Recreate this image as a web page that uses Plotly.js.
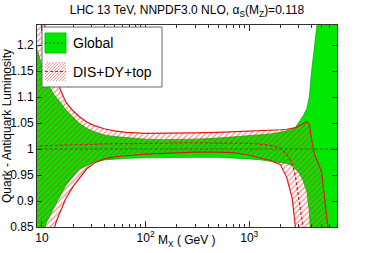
<!DOCTYPE html>
<html><head><meta charset="utf-8">
<script src="https://cdn.plot.ly/plotly-3.0.1.min.js"></script>
<style>html,body{margin:0;padding:0;background:#fff}#chart{width:374px;height:253px}</style>
</head><body><div id="chart"></div>
<script>
// ---- data ----
const massGeV = [8.5, 9, 10, 11, 12, 13, 14, 15, 17, 20, 23, 27, 32, 40, 50, 65, 100, 150, 200, 300, 500, 700, 1000, 1300, 1600, 2000, 2300, 2600, 2800, 3000, 3300, 3600, 3800, 4000, 4300, 4600, 5000, 5300, 5600, 6000, 7000, 8000];
const globalUpper = [1.21, 1.19, 1.16, 1.135, 1.117, 1.105, 1.097, 1.09, 1.075, 1.06, 1.049, 1.04, 1.033, 1.027, 1.024, 1.022, 1.019, 1.018, 1.018, 1.019, 1.021, 1.023, 1.025, 1.027, 1.029, 1.032, 1.035, 1.038, 1.042, 1.05, 1.063, 1.078, 1.10, 1.15, 1.2, 1.25, 1.32, 1.4, 1.4, 1.4, 1.4, 1.4];
const globalLower = [0.77, 0.79, 0.83, 0.858, 0.872, 0.886, 0.898, 0.91, 0.93, 0.947, 0.961, 0.968, 0.975, 0.979, 0.981, 0.982, 0.983, 0.984, 0.984, 0.984, 0.984, 0.983, 0.981, 0.979, 0.977, 0.974, 0.972, 0.968, 0.962, 0.955, 0.94, 0.918, 0.88, 0.80, 0.70, 0.65, 0.6, 0.6, 0.6, 0.6, 0.6, 0.6];
const globalCentral = [1, 1, 1, 1, 1, 1, 1, 1, 1, 1, 1, 1, 1, 1, 1, 1, 1, 1, 1, 1, 1, 1, 1, 1, 1, 1, 1, 1, 1, 1, 1, 1, 1, 1, 1, 1, 1, 1, 1, 1, 1, 1];
const disUpper = [1.38, 1.33, 1.27, 1.22, 1.185, 1.16, 1.135, 1.115, 1.09, 1.073, 1.062, 1.052, 1.045, 1.039, 1.035, 1.032, 1.030, 1.030, 1.030, 1.031, 1.032, 1.033, 1.034, 1.035, 1.036, 1.037, 1.038, 1.039, 1.041, 1.044, 1.049, 1.053, 1.047, 1.018, 0.988, 0.975, 0.955, 0.90, 0.845, 0.78, 0.70, 0.65];
const disLower = [0.66, 0.68, 0.73, 0.77, 0.81, 0.845, 0.865, 0.88, 0.905, 0.928, 0.945, 0.962, 0.973, 0.981, 0.985, 0.987, 0.990, 0.992, 0.993, 0.994, 0.994, 0.993, 0.988, 0.983, 0.978, 0.970, 0.945, 0.905, 0.845, 0.79, 0.72, 0.65, 0.6, 0.6, 0.6, 0.6, 0.6, 0.6, 0.6, 0.6, 0.6, 0.6];
const disCentral = [1.006, 1.006, 1.006, 1.007, 1.007, 1.007, 1.007, 1.007, 1.008, 1.008, 1.008, 1.009, 1.009, 1.010, 1.010, 1.011, 1.011, 1.011, 1.012, 1.012, 1.012, 1.012, 1.011, 1.009, 1.007, 1.002, 0.99, 0.972, 0.945, 0.905, 0.855, 0.80, 0.76, 0.72, 0.7, 0.7, 0.7, 0.7, 0.7, 0.7, 0.7, 0.7];
const seriesNames = ['Global', 'DIS+DY+top'];
const yTickVals = [0.85, 0.9, 0.95, 1, 1.05, 1.1, 1.15, 1.2];
const yTickText = ['0.85', '0.9', '0.95', '1', '1.05', '1.1', '1.15', '1.2'];
const xTickVals = [10, 100, 1000];
const xTickText = ['10', '10<sup>2</sup>', '10<sup>3</sup>'];
const xMinorVals = [20, 30, 40, 50, 60, 70, 80, 90, 200, 300, 400, 500, 600, 700, 800, 900, 2000, 3000, 4000, 5000, 6000, 7000];

// ---- layout geometry ----
const L = 37, R = 337, T = 25, B = 227;
function px2x(px) { return (px - L) / (R - L); }
function px2y(py) { return (B - py) / (B - T); }
function band(x, up, lo) {
  return { x: x.concat(x.slice().reverse()), y: up.concat(lo.slice().reverse()) };
}
const FONT = 'Liberation Sans, Arial, sans-serif';
const GREEN = 'rgb(0,232,0)';
const RED = 'rgb(222,24,24)';

const gBand = band(massGeV, globalUpper, globalLower);
const dBand = band(massGeV, disUpper, disLower);

const traces = [
  { type: 'scatter', mode: 'lines', x: gBand.x, y: gBand.y, fill: 'toself', fillcolor: GREEN,
    line: { color: 'rgb(0,170,0)', width: 0.7 }, name: seriesNames[0], hoverinfo: 'skip', showlegend: false },
  { type: 'scatter', mode: 'lines', x: dBand.x, y: dBand.y, fill: 'toself', fillcolor: 'rgba(0,0,0,0)',
    fillpattern: { shape: '/', fgcolor: 'rgb(235,40,40)', fgopacity: 0.55, bgcolor: 'rgba(0,0,0,0)', size: 4, solidity: 0.3 },
    line: { color: RED, width: 1.2 }, name: seriesNames[1], hoverinfo: 'skip', showlegend: false },
  { type: 'scatter', mode: 'lines', x: massGeV, y: globalCentral, line: { color: 'rgb(40,110,40)', width: 1, dash: '3px,2px' },
    hoverinfo: 'skip', showlegend: false },
  { type: 'scatter', mode: 'lines', x: massGeV, y: disCentral, line: { color: RED, width: 1.2, dash: '3px,2px' },
    hoverinfo: 'skip', showlegend: false }
];

// ---- custom ROOT-style legend ----
const shapes = [];
const annotations = [];
shapes.push({ type: 'rect', xref: 'paper', yref: 'paper', x0: px2x(42), x1: px2x(162), y0: px2y(27), y1: px2y(87),
  fillcolor: 'white', line: { color: '#666', width: 1 }, layer: 'above' });
shapes.push({ type: 'rect', xref: 'paper', yref: 'paper', x0: px2x(45), x1: px2x(66), y0: px2y(33), y1: px2y(53),
  fillcolor: GREEN, line: { color: 'rgb(0,200,0)', width: 1 }, layer: 'above' });
shapes.push({ type: 'line', xref: 'paper', yref: 'paper', x0: px2x(45), x1: px2x(66), y0: px2y(43), y1: px2y(43),
  line: { color: 'rgb(40,110,40)', width: 1, dash: '2px,2px' }, layer: 'above' });
// hatched swatch
(function () {
  const x0 = 45, x1 = 66, y0 = 62, y1 = 81, w = x1 - x0, h = y1 - y0;
  for (let c = -h; c < w; c += 3) {
    const tmin = Math.max(0, -c), tmax = Math.min(h, w - c);
    if (tmax <= tmin) continue;
    shapes.push({ type: 'line', xref: 'paper', yref: 'paper',
      x0: px2x(x0 + c + tmin), y0: px2y(y1 - tmin), x1: px2x(x0 + c + tmax), y1: px2y(y1 - tmax),
      line: { color: 'rgba(240,90,90,0.6)', width: 1 }, layer: 'above' });
  }
})();
shapes.push({ type: 'line', xref: 'paper', yref: 'paper', x0: px2x(45), x1: px2x(66), y0: px2y(71.5), y1: px2y(71.5),
  line: { color: RED, width: 1.2, dash: '3px,2px' }, layer: 'above' });
annotations.push({ xref: 'paper', yref: 'paper', x: px2x(71), y: px2y(43), xanchor: 'left', yanchor: 'middle',
  text: seriesNames[0], showarrow: false, font: { family: FONT, size: 14, color: '#000' } });
annotations.push({ xref: 'paper', yref: 'paper', x: px2x(71), y: px2y(72), xanchor: 'left', yanchor: 'middle',
  text: seriesNames[1], showarrow: false, font: { family: FONT, size: 14, color: '#000' } });
// x axis title placed inline with tick labels
annotations.push({ xref: 'paper', yref: 'paper', x: px2x(187), y: px2y(241), xanchor: 'center', yanchor: 'middle',
  text: 'M<sub>X</sub> ( GeV )', showarrow: false, font: { family: FONT, size: 12, color: '#000' } });

const layout = {
  width: 374, height: 253,
  margin: { l: L, r: 374 - R, t: T, b: 253 - B, pad: 0 },
  paper_bgcolor: 'white', plot_bgcolor: 'white',
  showlegend: false,
  font: { family: FONT, size: 12, color: '#000' },
  title: { text: 'LHC 13 TeV, NNPDF3.0 NLO, α<sub>S</sub>(M<sub>Z</sub>)=0.118', x: 0.5, xanchor: 'center',
    y: 1 - 10 / 253, yanchor: 'middle', font: { family: FONT, size: 12, color: '#000' } },
  xaxis: {
    type: 'log', range: [Math.log10(8.95), Math.log10(7030)],
    tickmode: 'array', tickvals: xTickVals, ticktext: xTickText,
    ticks: 'inside', ticklen: 6, tickwidth: 1, tickcolor: '#333',
    minor: { tickmode: 'array', tickvals: xMinorVals, ticks: 'inside', ticklen: 3, tickwidth: 1, tickcolor: '#333', showgrid: false },
    showline: true, linecolor: '#333', linewidth: 1, mirror: 'ticks',
    showgrid: false, zeroline: false, tickfont: { family: FONT, size: 12 }, automargin: false
  },
  yaxis: {
    range: [0.85, 1.2385],
    tickmode: 'array', tickvals: yTickVals, ticktext: yTickText,
    ticks: 'inside', ticklen: 5, tickwidth: 1, tickcolor: '#333',
    showline: true, linecolor: '#333', linewidth: 1, mirror: 'ticks',
    showgrid: false, zeroline: false, tickfont: { family: FONT, size: 12 }, automargin: false,
    title: { text: 'Quark - Antiquark Luminosity', font: { family: FONT, size: 12 }, standoff: 4 }
  },
  shapes: shapes,
  annotations: annotations
};

Plotly.newPlot('chart', traces, layout, { displayModeBar: false, staticPlot: true });
</script>
</body></html>
